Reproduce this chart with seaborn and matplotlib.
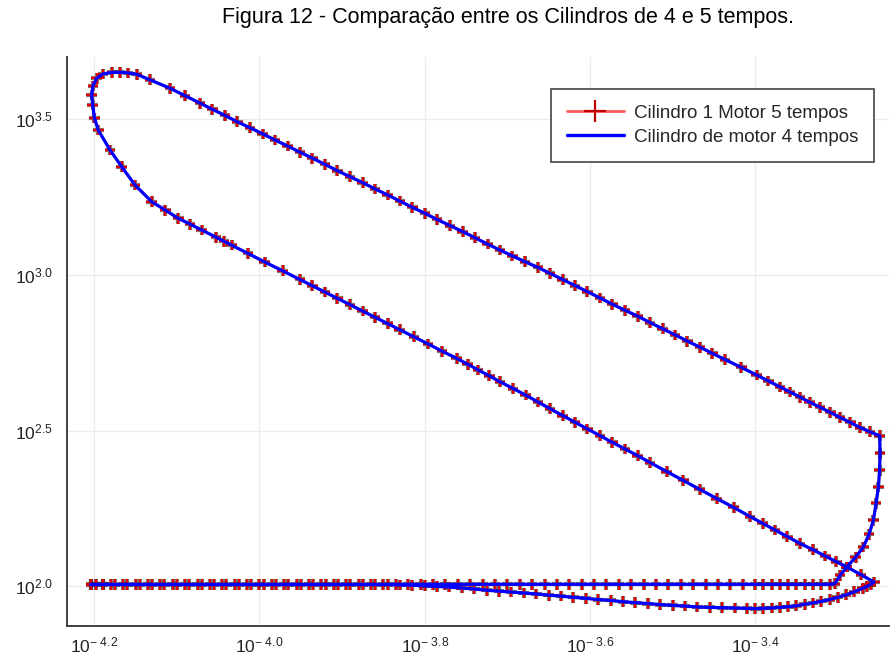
import numpy as np
import pandas as pd
import matplotlib
matplotlib.use("Agg")
import matplotlib.pyplot as plt
import matplotlib.patheffects as pe
from matplotlib.lines import Line2D
from matplotlib.ticker import NullLocator
import seaborn as sns

# ---------------- text ----------------
title = "Figura 12 - Comparação entre os Cilindros de 4 e 5 tempos."
label_5t = "Cilindro 1 Motor 5 tempos"
label_4t = "Cilindro de motor 4 tempos"

x_tick_exp = [-4.2, -4.0, -3.8, -3.6, -3.4]
y_tick_exp = [2.0, 2.5, 3.0, 3.5]
x_tick_labels = [r"$10^{-\ 4.2}$", r"$10^{-\ 4.0}$", r"$10^{-\ 3.8}$",
                 r"$10^{-\ 3.6}$", r"$10^{-\ 3.4}$"]
y_tick_labels = [r"$10^{2.0}$", r"$10^{2.5}$", r"$10^{3.0}$", r"$10^{3.5}$"]

# ---------------- data: (log10 volume, log10 pressure) ----------------
# intake (lower curve, TDC -> BDC)
intake = [(-4.204, 2.005), (-4.19, 2.005), (-4.175, 2.005), (-4.16, 2.005),
          (-4.145, 2.005), (-4.13, 2.005), (-4.115, 2.005), (-4.10, 2.005),
          (-4.085, 2.005), (-4.07, 2.005), (-4.055, 2.005), (-4.04, 2.005),
          (-4.025, 2.005), (-4.01, 2.005), (-3.995, 2.005), (-3.98, 2.005),
          (-3.965, 2.005), (-3.95, 2.005), (-3.935, 2.005), (-3.92, 2.005),
          (-3.905, 2.005), (-3.89, 2.005), (-3.875, 2.005), (-3.86, 2.005),
          (-3.845, 2.005), (-3.83, 2.004), (-3.815, 2.003), (-3.80, 2.001),
          (-3.785, 1.999), (-3.77, 1.997), (-3.755, 1.994), (-3.74, 1.991),
          (-3.725, 1.987), (-3.71, 1.984), (-3.695, 1.981), (-3.68, 1.978),
          (-3.665, 1.975), (-3.65, 1.971), (-3.635, 1.968), (-3.62, 1.964),
          (-3.605, 1.961), (-3.59, 1.957), (-3.575, 1.954), (-3.56, 1.950),
          (-3.545, 1.947), (-3.53, 1.944), (-3.515, 1.941), (-3.50, 1.938),
          (-3.485, 1.936), (-3.47, 1.933), (-3.455, 1.932), (-3.44, 1.931),
          (-3.425, 1.930), (-3.41, 1.929), (-3.40, 1.928), (-3.39, 1.929),
          (-3.38, 1.930), (-3.37, 1.932), (-3.36, 1.934), (-3.35, 1.937),
          (-3.34, 1.942), (-3.33, 1.946), (-3.32, 1.951), (-3.31, 1.957),
          (-3.30, 1.964), (-3.29, 1.972), (-3.28, 1.982), (-3.27, 1.993),
          (-3.265, 1.999), (-3.26, 2.006), (-3.256, 2.013)]

# compression (lower diagonal, BDC -> TDC)
compression = [(-3.272, 2.037), (-3.2891, 2.0617), (-3.302, 2.079),
               (-3.3153, 2.0968), (-3.330, 2.117), (-3.3456, 2.1369),
               (-3.361, 2.159), (-3.3759, 2.1803), (-3.391, 2.202),
               (-3.4062, 2.2237), (-3.426, 2.253), (-3.4465, 2.2816),
               (-3.467, 2.311), (-3.4869, 2.3398), (-3.507, 2.368),
               (-3.5272, 2.3970), (-3.542, 2.419), (-3.5575, 2.4403),
               (-3.573, 2.462), (-3.5878, 2.4835), (-3.603, 2.505),
               (-3.6180, 2.5267), (-3.633, 2.548), (-3.6483, 2.5700),
               (-3.663, 2.592), (-3.6780, 2.6140), (-3.693, 2.635),
               (-3.7088, 2.6564), (-3.722, 2.676), (-3.7354, 2.6947),
               (-3.748, 2.713), (-3.7612, 2.7317), (-3.779, 2.755),
               (-3.7960, 2.7783), (-3.813, 2.801), (-3.8301, 2.8236),
               (-3.845, 2.844), (-3.8603, 2.8641), (-3.875, 2.884),
               (-3.8905, 2.9046), (-3.906, 2.925), (-3.9207, 2.9448),
               (-3.936, 2.965), (-3.9510, 2.9853), (-3.972, 3.013),
               (-3.9935, 3.0412), (-4.014, 3.069), (-4.0337, 3.0959),
               (-4.043, 3.108), (-4.0525, 3.1210), (-4.0700, 3.1441),
               (-4.084, 3.163), (-4.0983, 3.1817), (-4.114, 3.208),
               (-4.1305, 3.2351), (-4.1507, 3.2888), (-4.1668, 3.3476),
               (-4.1810, 3.4013), (-4.1952, 3.4656), (-4.1998, 3.5042),
               (-4.2019, 3.5460), (-4.2031, 3.5781)]

# combustion loop near TDC
combustion = [(-4.2016, 3.6070), (-4.1971, 3.6318), (-4.1895, 3.6456),
              (-4.1786, 3.6504), (-4.1689, 3.6511), (-4.1592, 3.6488),
              (-4.1487, 3.6446), (-4.1326, 3.6266), (-4.1083, 3.5996),
              (-4.0901, 3.5755), (-4.0720, 3.5514)]

# expansion (upper diagonal)
expansion = [(-4.057, 3.532), (-4.0418, 3.5122), (-4.027, 3.492),
             (-4.0115, 3.4727), (-3.996, 3.453), (-3.9812, 3.4334),
             (-3.966, 3.414), (-3.9510, 3.3942), (-3.936, 3.375),
             (-3.9207, 3.3550), (-3.906, 3.335), (-3.8904, 3.3155),
             (-3.875, 3.296), (-3.8602, 3.2762), (-3.845, 3.257),
             (-3.8299, 3.2370), (-3.815, 3.217), (-3.7996, 3.1975),
             (-3.785, 3.178), (-3.7694, 3.1583), (-3.754, 3.139),
             (-3.7391, 3.1190), (-3.724, 3.099), (-3.7088, 3.0798),
             (-3.694, 3.061), (-3.6786, 3.0422), (-3.663, 3.024),
             (-3.6483, 3.0049), (-3.633, 2.985), (-3.6180, 2.9654),
             (-3.603, 2.946), (-3.5878, 2.9258), (-3.573, 2.906),
             (-3.5575, 2.8863), (-3.542, 2.867), (-3.5272, 2.8467),
             (-3.512, 2.827), (-3.4969, 2.8072), (-3.482, 2.787),
             (-3.4667, 2.7677), (-3.452, 2.748), (-3.4364, 2.7281),
             (-3.417, 2.703), (-3.3980, 2.6780), (-3.384, 2.659),
             (-3.3698, 2.6400), (-3.358, 2.624), (-3.3456, 2.6073),
             (-3.334, 2.591), (-3.3214, 2.5748), (-3.309, 2.558),
             (-3.2972, 2.5420), (-3.285, 2.526), (-3.2730, 2.5095),
             (-3.261, 2.496), (-3.2493, 2.4828)]

# blow-down
blowdown = [(-3.2488, 2.4263), (-3.2494, 2.3726), (-3.2508, 2.3189),
            (-3.2536, 2.2665), (-3.2569, 2.2118), (-3.2621, 2.1668),
            (-3.2690, 2.1260), (-3.2784, 2.0929), (-3.2891, 2.0617),
            (-3.2972, 2.0350), (-3.3033, 2.0084)]

# exhaust (upper horizontal line, BDC -> TDC)
exhaust = [(-3.31, 2.006), (-3.32, 2.006), (-3.33, 2.006), (-3.34, 2.006),
           (-3.35, 2.006), (-3.36, 2.006), (-3.37, 2.006), (-3.38, 2.006),
           (-3.39, 2.006), (-3.40, 2.006), (-3.415, 2.006), (-3.43, 2.006),
           (-3.445, 2.006), (-3.46, 2.006), (-3.475, 2.006), (-3.49, 2.006),
           (-3.505, 2.006), (-3.52, 2.006), (-3.535, 2.006), (-3.55, 2.006),
           (-3.565, 2.006), (-3.58, 2.006), (-3.595, 2.006), (-3.61, 2.006),
           (-3.625, 2.006), (-3.64, 2.006), (-3.655, 2.006), (-3.67, 2.006),
           (-3.685, 2.006), (-3.70, 2.006), (-3.715, 2.006), (-3.73, 2.006),
           (-3.745, 2.006), (-3.76, 2.006), (-3.775, 2.006), (-3.79, 2.006),
           (-3.805, 2.006), (-3.82, 2.006), (-3.835, 2.006), (-3.85, 2.006),
           (-3.865, 2.006), (-3.88, 2.006), (-3.895, 2.006), (-3.91, 2.006),
           (-3.925, 2.006), (-3.94, 2.006), (-3.955, 2.006), (-3.97, 2.006),
           (-3.985, 2.006), (-4.00, 2.006), (-4.015, 2.006), (-4.03, 2.006),
           (-4.045, 2.006), (-4.06, 2.006), (-4.075, 2.006), (-4.09, 2.006),
           (-4.105, 2.006), (-4.12, 2.006), (-4.135, 2.006), (-4.15, 2.006),
           (-4.165, 2.006), (-4.18, 2.006), (-4.19, 2.006), (-4.198, 2.006),
           (-4.204, 2.006)]

# ---------------- build table ----------------
cycle = intake + compression + combustion + expansion + blowdown + exhaust
log_v = np.array([c[0] for c in cycle])
log_p = np.array([c[1] for c in cycle])
df = pd.DataFrame({"V": 10.0 ** log_v, "P": 10.0 ** log_p,
                   "step": np.arange(len(cycle))})

# ---------------- style ----------------
sns.set_theme(style="white")
plt.rcParams["font.family"] = ["Liberation Sans", "DejaVu Sans"]
plt.rcParams["mathtext.fontset"] = "custom"
plt.rcParams["mathtext.rm"] = "Liberation Sans"
plt.rcParams["mathtext.it"] = "Liberation Sans:italic"
plt.rcParams["mathtext.bf"] = "Liberation Sans:bold"

fig = plt.figure(figsize=(8.91, 6.56), dpi=100)
ax = fig.add_axes([67 / 891, 1 - 626 / 656, 822 / 891, 569 / 656])

red = "#ff2a2a"
blue = "#0000ff"

# 5-stroke cylinder: red line + '+' markers
sns.lineplot(data=df, x="V", y="P", sort=False, estimator=None, ax=ax,
             color=red, lw=1.8, alpha=0.8, zorder=3)
sns.scatterplot(data=df, x="V", y="P", ax=ax, marker="+", s=60,
                color="#e60000", linewidth=1.5, zorder=4,
                path_effects=[pe.Stroke(linewidth=3.0, foreground="#300000",
                                        alpha=0.55), pe.Normal()])
# 4-stroke cylinder: blue line
sns.lineplot(data=df, x="V", y="P", sort=False, estimator=None, ax=ax,
             color=blue, lw=2.3, zorder=5)

ax.set_xscale("log")
ax.set_yscale("log")
ax.set_xlim(10 ** -4.233, 10 ** -3.238)
ax.set_ylim(10 ** 1.872, 10 ** 3.70)
ax.set_xticks([10 ** e for e in x_tick_exp])
ax.set_xticklabels(x_tick_labels)
ax.set_yticks([10 ** e for e in y_tick_exp])
ax.set_yticklabels(y_tick_labels)
ax.xaxis.set_minor_locator(NullLocator())
ax.yaxis.set_minor_locator(NullLocator())
ax.set_xlabel("")
ax.set_ylabel("")

ax.grid(True, color="#ebebeb", lw=0.9)
ax.set_axisbelow(True)
for s in ["top", "right"]:
    ax.spines[s].set_visible(False)
for s in ["left", "bottom"]:
    ax.spines[s].set_color("#333333")
    ax.spines[s].set_linewidth(1.3)
ax.tick_params(axis="both", which="major", direction="in", length=6,
               width=1.1, color="#333333", labelsize=12.5, labelcolor="#222222")
ax.tick_params(axis="y", pad=10)
ax.tick_params(axis="x", pad=7)

handles = [
    Line2D([0], [0], color="#ff5a5a", lw=2, marker="+", ms=16, mew=1.6,
           mec="#c00000"),
    Line2D([0], [0], color=blue, lw=2.4),
]
leg = ax.legend(handles, [label_5t, label_4t], loc="upper right",
                bbox_to_anchor=(0.982, 0.944), borderaxespad=0,
                fontsize=13.5, frameon=True, fancybox=False, framealpha=1,
                edgecolor="#444444", handlelength=3.0, handletextpad=0.55,
                borderpad=0.85, labelspacing=0.35)
leg.get_frame().set_linewidth(1.2)

fig.text(508 / 891, 1 - 18 / 656, title, ha="center", va="center",
         fontsize=15.5, color="black")

fig.savefig("out.png", dpi=100)
